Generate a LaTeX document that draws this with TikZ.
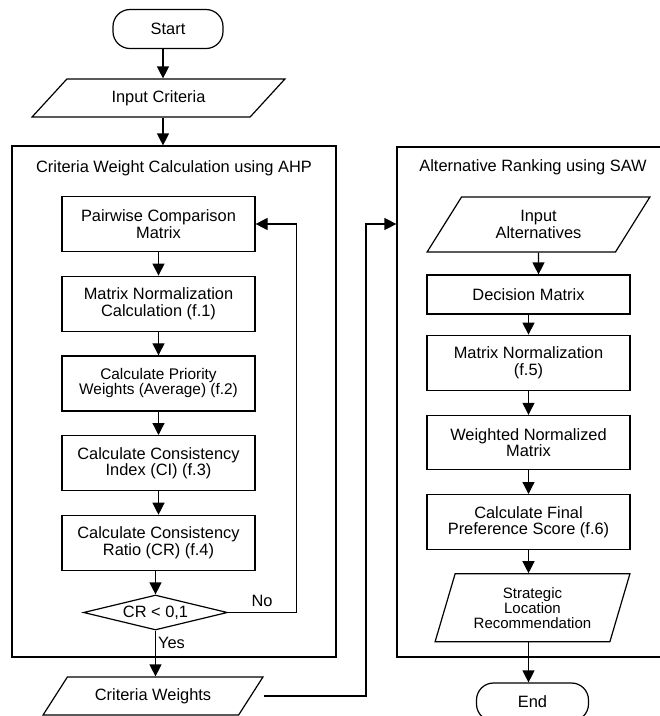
\documentclass[tikz,border=0pt]{standalone}
\usepackage{fontspec}
\setmainfont{Liberation Sans}
\usetikzlibrary{arrows.meta,positioning,shapes.geometric}

\begin{document}
\begin{tikzpicture}[x=1pt,y=-1pt,>={Triangle[length=12pt,width=12pt]},
  line width=1.2pt,font=\fontsize{16.4}{16.5}\selectfont,node distance=23.5pt,
  proc/.style={draw,minimum width=193pt,minimum height=55pt,align=center,inner sep=2pt},
  term/.style={draw,rounded corners=17pt,minimum width=110pt,minimum height=39pt},
  io/.style={draw,trapezium,trapezium left angle=#1,trapezium right angle=180-#1,
    trapezium stretches=true,align=center,inner sep=1pt},
  frame/.style={draw,inner sep=0pt},
  lbl/.style={inner sep=2pt}]
\useasboundingbox (0,0) rectangle (660,716);
% left part: AHP
\node[term] (start) at (168,29) {Start};
\node[io=43.5,minimum width=253pt,minimum height=38pt] (incrit) at (158.5,98) {Input Criteria};
\node[frame,minimum width=324pt,minimum height=511pt] (ahp) at (174,401.5) {};
\node (ahpt) at (174,168) {Criteria Weight Calculation using AHP};
\node[proc] (pw) at (158.5,224) {Pairwise Comparison\\Matrix};
\node[proc,below=of pw] (mn) {Matrix Normalization\\Calculation (f.1)};
\node[proc,below=of mn,font=\fontsize{15.4}{15}\selectfont] (pr) {Calculate Priority\\Weights (Average) (f.2)};
\node[proc,below=of pr] (ci) {Calculate Consistency\\Index (CI) (f.3)};
\node[proc,below=of ci] (cr) {Calculate Consistency\\Ratio (CR) (f.4)};
\node[draw,diamond,aspect=4,minimum width=144pt,minimum height=35pt,inner sep=0pt,
  below=of cr,xshift=-3pt] (dec) {CR < 0,1};
\node[io=45.8,minimum width=220pt,minimum height=38pt] (cw) at (153,696) {Criteria Weights};
% right part: SAW
\node[frame,minimum width=293pt,minimum height=510pt] (saw) at (543.5,402) {};
\node (sawt) at (533,167) {Alternative Ranking using SAW};
\node[io=56.8,minimum width=223pt,minimum height=55pt] (ia) at (538.5,224.5) {Input\\Alternatives};
\node[proc,minimum width=203pt,minimum height=39pt] (dm) at (528.5,294.5) {Decision Matrix};
\node[proc,minimum width=203pt,below=20pt of dm] (mn5) {Matrix Normalization\\(f.5)};
\node[proc,minimum width=203pt,minimum height=54pt,below=24pt of mn5] (wn) {Weighted Normalized\\Matrix};
\node[proc,minimum width=203pt,below=24pt of wn] (fp) {Calculate Final\\Preference Score (f.6)};
\node[io=70.2,minimum width=195pt,minimum height=68pt,below=23pt of fp,xshift=4pt,
  font=\fontsize{15}{15}\selectfont] (sl) {Strategic\\Location\\Recommendation};
\node[term,minimum width=112pt,minimum height=38pt,below=40pt of sl] (end) {End};
% connectors
\coordinate (c1) at (163,0);
\coordinate (jn) at (366,224);
\draw[->] (c1 |- start.south) -- (c1 |- incrit.north);
\draw[->] (c1 |- incrit.south) -- (c1 |- ahp.north);
\foreach \a/\b in {pw/mn,mn/pr,pr/ci,ci/cr,dm/mn5,mn5/wn,wn/fp} \draw[->] (\a)--(\b);
\draw[->] (cr.south -| dec.north) -- (dec.north);
\draw[->] (dec.east) -- node[lbl,above,yshift=3pt]{No} ++(68,0) |- (pw.east);
\draw[->] (dec.south) -- node[lbl,right,pos=0.28]{Yes} (dec.south |- cw.north);
\draw[->] (cw.top right corner |- cw) -| (jn) -- (jn -| saw.west);
\draw[->] (ia) -- (ia |- dm.north);
\draw[->] (fp) -- (fp |- sl.north);
\draw[->] (fp |- sl.south) -- (fp |- end.north);
\end{tikzpicture}
\end{document}
